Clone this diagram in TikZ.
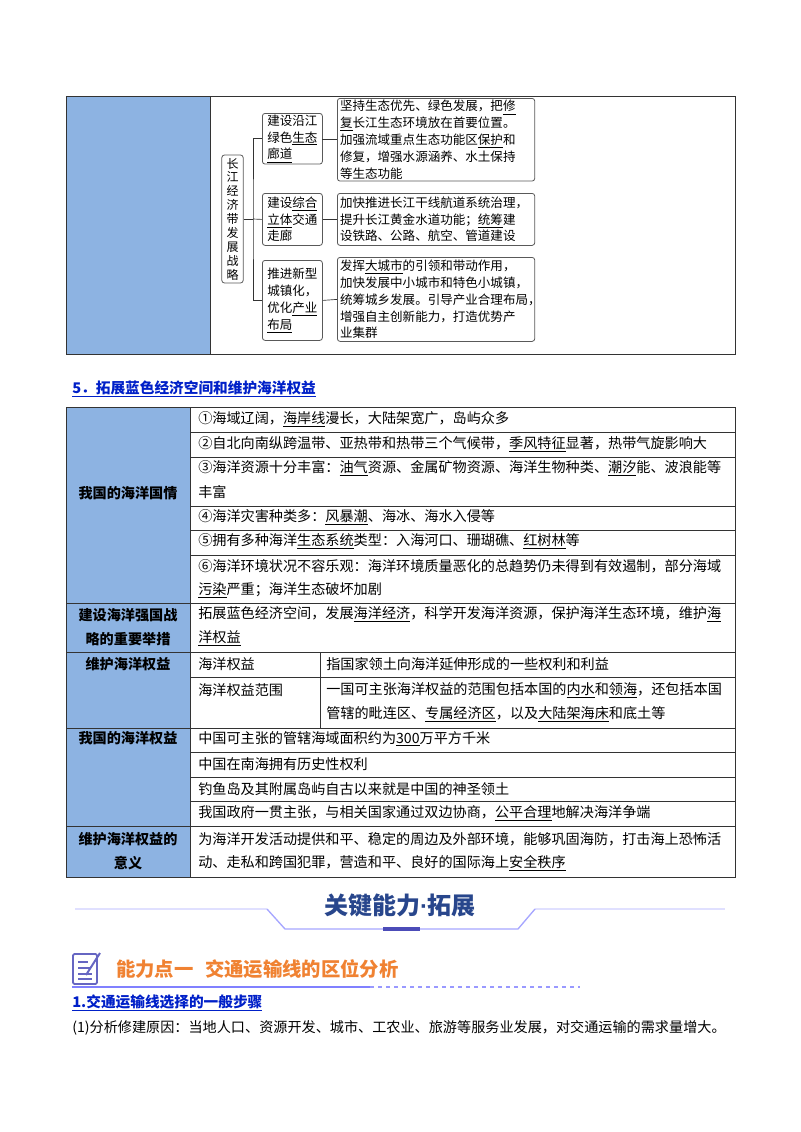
\documentclass[tikz,border=0pt]{standalone}
\usepackage{fontspec}
\setmainfont{Liberation Serif}
\newfontfamily\cjk{Noto Sans CJK SC}
\newcommand{\ul}[1]{\underline{#1}}
\begin{document}
\begin{tikzpicture}[x=0.75pt,y=-0.75pt,
  body/.style={font=\cjk\fontsize{10.6}{18.4}\selectfont,anchor=west,inner sep=0pt},
  lab/.style={font=\cjk\bfseries\fontsize{10.6}{18.4}\selectfont,align=center,inner sep=0pt},
  mbox/.style={draw=gray!70!black,rounded corners=2pt,line width=0.6pt,font=\cjk\fontsize{9.4}{12.6}\selectfont,align=left,inner xsep=2pt,inner ysep=1pt},
  grid/.style={draw=black!80,line width=0.5pt},
  conn/.style={draw=black!80,line width=0.5pt}]
\useasboundingbox (0,0) rectangle (800,1132);
\fill[white] (0,0) rectangle (800,1132);
\definecolor{colblue}{RGB}{141,179,226}
\definecolor{tblue}{RGB}{0,32,200}
% ---------- top table
\fill[colblue] (66,96) rectangle (210,354);
\draw[grid] (66,96) rectangle (735,354);
\draw[grid] (210,96) -- (210,354);
\node[mbox,minimum width=16pt,minimum height=96pt,inner sep=1pt,font=\cjk\fontsize{9}{10.4}\selectfont] (cj) at (232.5,219) {长\\江\\经\\济\\带\\发\\展\\战\\略};
\node[mbox,minimum width=45pt,minimum height=38pt,anchor=north west] (b1) at (262,113) {建设沿江\\绿色\ul{生态}\\\ul{廊道}};
\node[mbox,minimum width=45pt,minimum height=39pt,anchor=north west] (b2) at (262,193) {建设\ul{综合}\\\ul{立体}交通\\走廊};
\node[mbox,minimum width=45pt,minimum height=60pt,anchor=north west] (b3) at (262,260) {推进新型\\城镇化，\\优化\ul{产业}\\\ul{布局}};
\node[mbox,minimum width=148pt,minimum height=62pt,anchor=north west,text width=144pt] (d1) at (337,98) {坚持生态优先、绿色发展，把\ul{修}\\\ul{复}长江生态环境放在首要位置。\\加强流域重点生态功能区\ul{保护}和\\修复，增强水源涵养、水土保持\\等生态功能};
\node[mbox,minimum width=148pt,minimum height=39pt,anchor=north west,text width=144pt] (d2) at (337,193) {加快推进长江干线航道系统治理，\\提升长江黄金水道功能；\ul{统筹}建\\设铁路、公路、航空、管道建设};
\node[mbox,minimum width=148pt,minimum height=63pt,anchor=north west,text width=144pt] (d3) at (337,257) {发挥\ul{大城市}的引领和带动作用，\\加快发展中小城市和特色小城镇，\\统筹城乡发展。引导产业合理布局，\\增强自主创新能力，打造优势产\\业集群};
\coordinate (jx) at (253,219);
\draw[conn] (cj.east) -- (jx);
\draw[conn] (b1.west) -| (jx) |- (b3.west);
\draw[conn] (jx) -- (b2.west);
\draw[conn] (b1.east) -- (d1.west -| b1.east) -- (d1.west);
\draw[conn] (b2.east) -- (d2.west);
\draw[conn] (b3.east) -- (d3.west);
% ---------- section 5
\node[anchor=west,inner sep=0pt,text=tblue,font=\cjk\bfseries\fontsize{11}{13}\selectfont] (t5) at (72,389) {\ul{5．拓展蓝色经济空间和维护海洋权益}};
\fill[colblue] (66,407) rectangle (190,877);
\draw[grid] (66,407) rectangle (735,877);
\draw[grid] (190,407) -- (190,877);
\foreach \yy in {603,652,728,826} \draw[grid] (66,\yy) -- (735,\yy);
\foreach \yy in {432,457,506,530,555,677,752,777,801} \draw[grid] (190,\yy) -- (735,\yy);
\draw[grid] (320,652) -- (320,728);
\node[lab] (g1) at (128,493) {我国的海洋国情};
\node[lab] (g2) at (128,627) {建设海洋强国战\\略的重要举措};
\node[lab] (g3) at (128,664) {维护海洋权益};
\node[lab] (g4) at (128,738) {我国的海洋权益};
\node[lab] (g5) at (128,851) {维护海洋权益的\\意义};
\node[body] (r1) at (198,419) {①海域辽阔，\ul{海岸线}漫长，大陆架宽广，岛屿众多};
\node[body] (r2) at (198,444) {②自北向南纵跨温带、亚热带和热带三个气候带，\ul{季风特征}显著，热带气旋影响大};
\node[body] (r3) at (198,468) {③海洋资源十分丰富：\ul{油气}资源、金属矿物资源、海洋生物种类、\ul{潮汐}能、波浪能等};
\node[body] (r3b) at (198,492) {丰富};
\node[body] (r4) at (198,517) {④海洋灾害种类多：\ul{风暴潮}、海冰、海水入侵等};
\node[body] (r5) at (198,541) {⑤拥有多种海洋\ul{生态系统}类型：入海河口、珊瑚礁、\ul{红树林}等};
\node[body] (r6) at (198,566) {⑥海洋环境状况不容乐观：海洋环境质量恶化的总趋势仍未得到有效遏制，部分海域};
\node[body] (r6b) at (198,590) {\ul{污染}严重；海洋生态破坏加剧};
\node[body] (s1) at (198,614) {拓展蓝色经济空间，发展\ul{海洋经济}，科学开发海洋资源，保护海洋生态环境，维护\ul{海}};
\node[body] (s1b) at (198,638) {\ul{洋权益}};
\node[body] (q1) at (198,664) {海洋权益};
\node[body] (q2) at (198,690) {海洋权益范围};
\node[body] (q1r) at (326,664) {指国家领土向海洋延伸形成的一些权利和利益};
\node[body] (q2r) at (326,690) {一国可主张海洋权益的范围包括本国的\ul{内水}和\ul{领海}，还包括本国};
\node[body] (q2rb) at (326,714) {管辖的毗连区、\ul{专属经济区}，以及\ul{大陆架海床}和底土等};
\node[body] (w1) at (198,739) {中国可主张的管辖海域面积约为\ul{300}万平方千米};
\node[body] (w2) at (198,764) {中国在南海拥有历史性权利};
\node[body] (w3) at (198,789) {钓鱼岛及其附属岛屿自古以来就是中国的神圣领土};
\node[body] (w4) at (198,813) {我国政府一贯主张，与相关国家通过双边协商，\ul{公平合理}地解决海洋争端};
\node[body] (y1) at (198,839) {为海洋开发活动提供和平、稳定的周边及外部环境，能够巩固海防，打击海上恐怖活};
\node[body] (y2) at (198,863) {动、走私和跨国犯罪，营造和平、良好的国际海上\ul{安全秩序}};
% ---------- banner
\draw[blue!12!white,line width=1.2pt] (75,909) -- (267,909);
\draw[blue!12!white,line width=1.2pt] (535,909) -- (725,909);
\draw[blue!35!white,line width=1pt] (267,909) -- (285,929) -- (518,929) -- (535,909);
\fill[blue!60!black!70!white] (383,927) rectangle (420,931);
\node[font=\cjk\bfseries\fontsize{18}{20}\selectfont,text={rgb,255:red,40;green,70;blue,140},inner sep=0pt] (ban) at (400,905) {关键能力{\fontspec{Liberation Sans}\textperiodcentered}拓展};
% ---------- icon and heading
\draw[blue!60!black!60!white,line width=1.3pt,rounded corners=1pt] (73,954) rectangle (97,984);
\draw[blue!60!black!60!white,line width=1pt] (78,962) -- (88,962) (78,968) -- (90,968) (78,974) -- (92,974) (78,979) -- (92,979);
\draw[blue!60!black!60!white,line width=1.5pt] (86,975) -- (100,953);
\node[anchor=west,inner sep=0pt,font=\cjk\bfseries\fontsize{14.5}{16}\selectfont,text={rgb,255:red,240;green,130;blue,50}] (h1) at (116,969) {能力点一\hspace{0.6em}交通运输线的区位分析};
\draw[blue!50!white,line width=0.8pt] (72,987) -- (370,987);
\draw[blue!40!white,line width=0.8pt,dashed] (370,987) -- (580,987);
\node[anchor=west,inner sep=0pt,text=tblue,font=\cjk\bfseries\fontsize{11}{13}\selectfont] (h2) at (72,1003) {\ul{1.交通运输线选择的一般步骤}};
\node[body] (p1) at (72,1028) {(1)分析修建原因：当地人口、资源开发、城市、工农业、旅游等服务业发展，对交通运输的需求量增大。};
\end{tikzpicture}
\end{document}
